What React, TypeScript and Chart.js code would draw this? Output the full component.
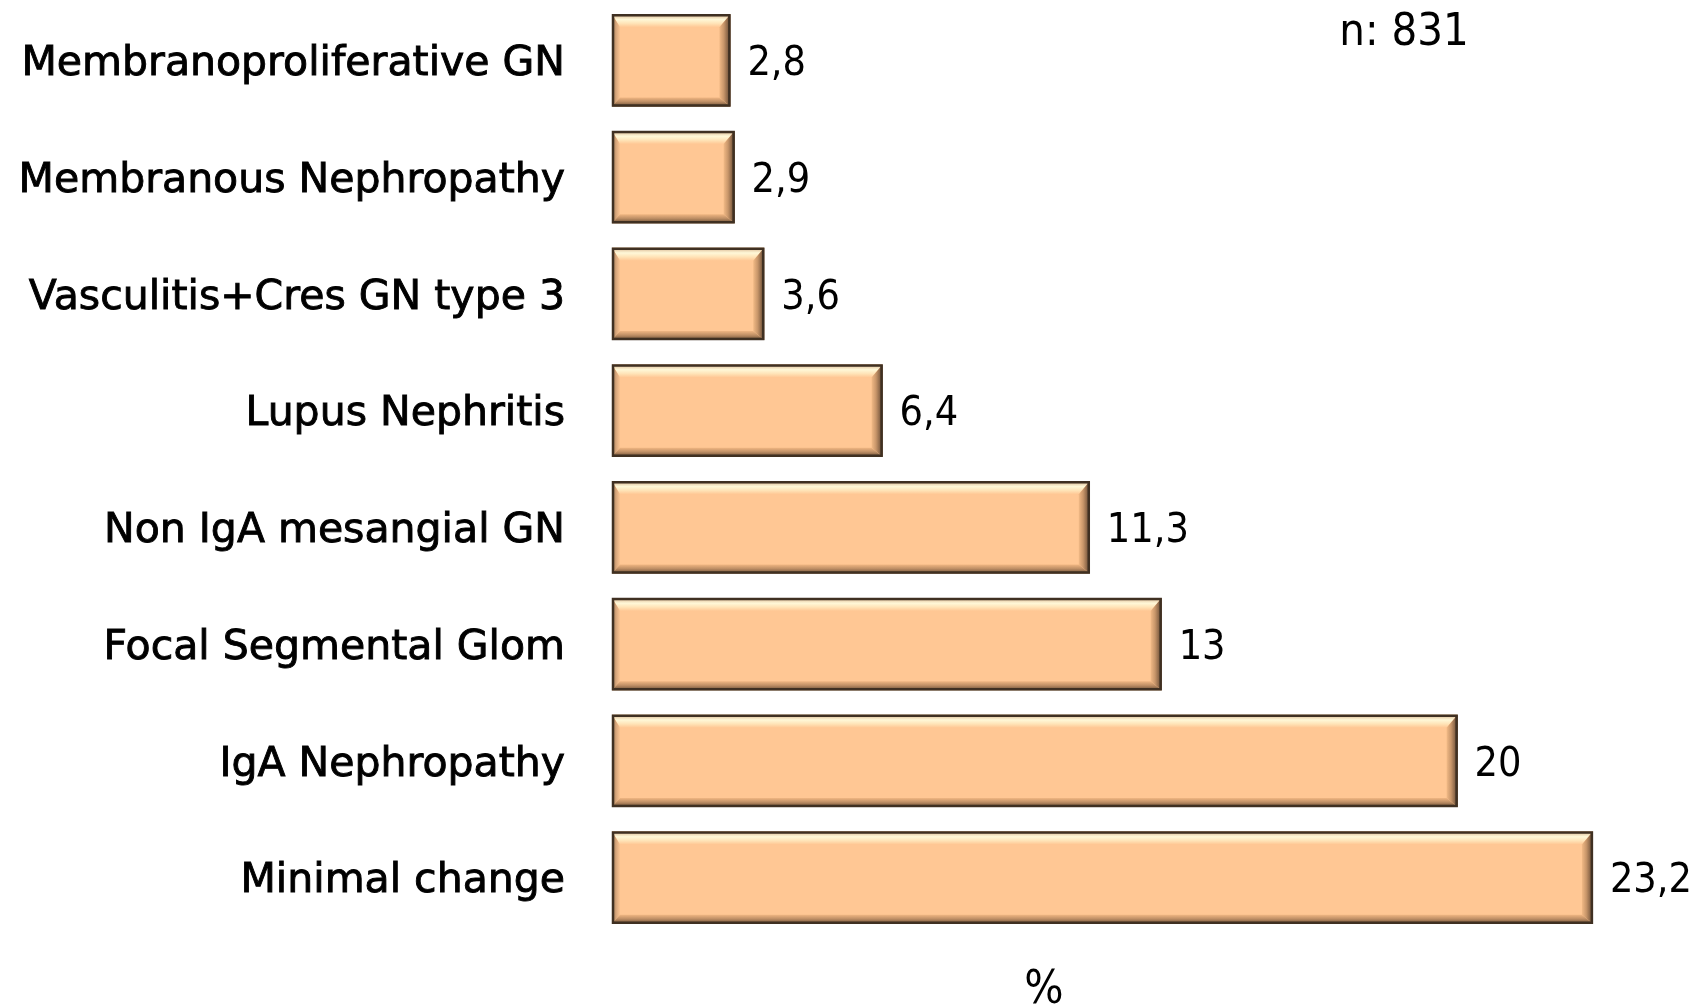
import React, { useEffect, useRef } from "react";
import { Chart, registerables } from "chart.js";

Chart.register(...registerables);

const categories = [
  "Membranoproliferative GN",
  "Membranous Nephropathy",
  "Vasculitis+Cres GN type 3",
  "Lupus Nephritis",
  "Non IgA mesangial GN",
  "Focal Segmental Glom",
  "IgA Nephropathy",
  "Minimal change",
];
const percentValues = [2.8, 2.9, 3.6, 6.4, 11.3, 13, 20, 23.2];
const sampleNote = "n: 831";
const axisTitle = "%";

const FILL = "#FFC794";
const BORDER = "#3F3022";

const bevelPlugin = {
  id: "bevel",
  afterDatasetsDraw(chart: any) {
    const ctx = chart.ctx;
    const meta = chart.getDatasetMeta(0);
    meta.data.forEach((bar: any, i: number) => {
      const p = bar.getProps(["x", "y", "base", "height"], true);
      const x0 = Math.min(p.base, p.x);
      const x1 = Math.max(p.base, p.x);
      const y0 = p.y - p.height / 2;
      const y1 = p.y + p.height / 2;
      const bt = 13, bl = 8, br = 11, bb = 9;
      ctx.save();
      // top bevel
      let g = ctx.createLinearGradient(0, y0, 0, y0 + bt);
      g.addColorStop(0, "#D9B48E");
      g.addColorStop(0.4, "#FFF8D8");
      g.addColorStop(0.7, "#FFE4B8");
      g.addColorStop(1, FILL);
      ctx.fillStyle = g;
      ctx.beginPath();
      ctx.moveTo(x0, y0);
      ctx.lineTo(x1, y0);
      ctx.lineTo(x1 - br, y0 + bt);
      ctx.lineTo(x0 + bl, y0 + bt);
      ctx.closePath();
      ctx.fill();
      // left bevel
      g = ctx.createLinearGradient(x0, 0, x0 + bl, 0);
      g.addColorStop(0, "#8E6C4C");
      g.addColorStop(0.5, "#D6A57A");
      g.addColorStop(1, "#FBC390");
      ctx.fillStyle = g;
      ctx.beginPath();
      ctx.moveTo(x0, y0);
      ctx.lineTo(x0 + bl, y0 + bt);
      ctx.lineTo(x0 + bl, y1 - bb);
      ctx.lineTo(x0, y1);
      ctx.closePath();
      ctx.fill();
      // right bevel
      g = ctx.createLinearGradient(x1 - br, 0, x1, 0);
      g.addColorStop(0, "#F2BA86");
      g.addColorStop(0.4, "#C8966A");
      g.addColorStop(1, "#5E4430");
      ctx.fillStyle = g;
      ctx.beginPath();
      ctx.moveTo(x1, y0);
      ctx.lineTo(x1, y1);
      ctx.lineTo(x1 - br, y1 - bb);
      ctx.lineTo(x1 - br, y0 + bt);
      ctx.closePath();
      ctx.fill();
      // bottom bevel
      g = ctx.createLinearGradient(0, y1 - bb, 0, y1);
      g.addColorStop(0, "#F0B682");
      g.addColorStop(0.45, "#C09066");
      g.addColorStop(1, "#6A4E36");
      ctx.fillStyle = g;
      ctx.beginPath();
      ctx.moveTo(x0, y1);
      ctx.lineTo(x1, y1);
      ctx.lineTo(x1 - br, y1 - bb);
      ctx.lineTo(x0 + bl, y1 - bb);
      ctx.closePath();
      ctx.fill();
      // border
      ctx.strokeStyle = BORDER;
      ctx.lineWidth = 2.5;
      ctx.strokeRect(x0 + 1, y0 + 1, x1 - x0 - 2, y1 - y0 - 2);
      // value label
      ctx.fillStyle = "#000";
      ctx.font = "41px 'DejaVu Sans Condensed', 'DejaVu Sans', sans-serif";
      ctx.textAlign = "left";
      ctx.textBaseline = "middle";
      ctx.fillText(String(percentValues[i]).replace(".", ","), x1 + 17, p.y + 4);
      ctx.restore();
    });
    // annotations
    ctx.save();
    ctx.fillStyle = "#000";
    ctx.textAlign = "center";
    ctx.textBaseline = "middle";
    ctx.font = "45px 'DejaVu Sans Condensed', 'DejaVu Sans', sans-serif";
    ctx.fillText(sampleNote, 1404, 33);
    ctx.font = "46px 'DejaVu Sans Condensed', 'DejaVu Sans', sans-serif";
    ctx.fillText(axisTitle, 1044, 991);
    ctx.restore();
  },
};

export default function App() {
  const ref = useRef<HTMLCanvasElement | null>(null);
  useEffect(() => {
    document.body.style.margin = "0";
    const canvas = ref.current!;
    const chart = new Chart(canvas, {
      type: "bar",
      data: {
        labels: categories,
        datasets: [
          {
            data: percentValues,
            backgroundColor: FILL,
            borderWidth: 0,
            categoryPercentage: 1,
            barPercentage: 0.79,
          },
        ],
      },
      options: {
        indexAxis: "y",
        animation: false,
        responsive: false,
        maintainAspectRatio: false,
        layout: { padding: { left: 0, right: 35, top: 2, bottom: 71 } },
        plugins: {
          legend: { display: false },
          tooltip: { enabled: false },
        },
        scales: {
          x: {
            min: 0,
            max: 25,
            display: false,
            grid: { display: false },
          },
          y: {
            grid: { display: false, drawTicks: false },
            border: { display: false },
            ticks: {
              color: "#000",
              padding: 47,
              labelOffset: 4,
              textStrokeColor: "#000",
              textStrokeWidth: 0.9,
              font: {
                family: "'DejaVu Sans', sans-serif",
                size: 41,
                lineHeight: 1.05,
              },
            },
            afterFit(scale: any) {
              scale.width = 612;
              scale.paddingTop = 0;
              scale.paddingBottom = 0;
            },
          },
        },
      },
      plugins: [bevelPlugin],
    } as any);
    return () => chart.destroy();
  }, []);
  return (
    <div style={{ width: 1704, height: 1007, background: "#fff" }}>
      <canvas ref={ref} width={1704} height={1007} style={{ display: "block" }} />
    </div>
  );
}
